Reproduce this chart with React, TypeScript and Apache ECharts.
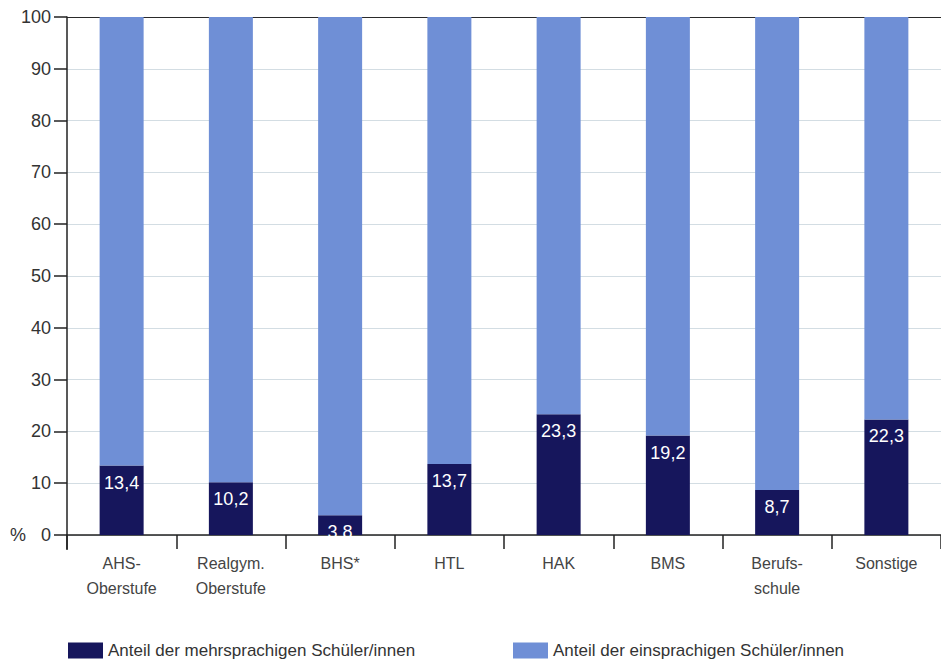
import React, { useEffect, useRef } from "react";
import * as echarts from "echarts";

const categories = ["AHS-\nOberstufe", "Realgym.\nOberstufe", "BHS*", "HTL", "HAK", "BMS", "Berufs-\nschule", "Sonstige"];
const mehrsprachig = [13.4, 10.2, 3.8, 13.7, 23.3, 19.2, 8.7, 22.3];
const einsprachig = [86.6, 89.8, 96.2, 86.3, 76.7, 80.8, 91.3, 77.7];
const seriesNames = ["Anteil der mehrsprachigen Schüler/innen", "Anteil der einsprachigen Schüler/innen"];
const yTicks = [0, 10, 20, 30, 40, 50, 60, 70, 80, 90, 100];

const FONT = "'Liberation Sans', Arial, Helvetica, sans-serif";

export default function App() {
  const ref = useRef<HTMLDivElement>(null);
  useEffect(() => {
    const chart = echarts.init(ref.current!, null, { renderer: "svg" });
    const splitColors = yTicks.map((t) => (t === 100 ? "#2a2a2a" : "#d3dde3"));
    const legendBase = {
      top: 642,
      padding: 0,
      itemWidth: 35,
      itemHeight: 16,
      itemGap: 0,
      icon: "rect",
      selectedMode: false,
      textStyle: { fontFamily: FONT, fontSize: 17, color: "#333" },
    };
    chart.setOption({
      animation: false,
      backgroundColor: "#ffffff",
      textStyle: { fontFamily: FONT },
      grid: { left: 67, right: -11, top: 17, bottom: 127, containLabel: false },
      legend: [
        { ...legendBase, left: 68, data: [seriesNames[0]] },
        { ...legendBase, left: 513, data: [seriesNames[1]] },
      ],
      xAxis: {
        type: "category",
        data: categories,
        axisLine: { show: true, lineStyle: { color: "#222", width: 1.5 } },
        axisTick: { show: true, length: 14, alignWithLabel: false, lineStyle: { color: "#222", width: 1.5 } },
        axisLabel: { fontFamily: FONT, fontSize: 16, color: "#444", lineHeight: 25, margin: 16, interval: 0 },
      },
      yAxis: {
        type: "value",
        min: 0,
        max: 100,
        interval: 10,
        axisLine: { show: true, lineStyle: { color: "#222", width: 1.5 } },
        axisTick: { show: true, length: 13, lineStyle: { color: "#222", width: 1.5 } },
        axisLabel: {
          fontFamily: FONT,
          fontSize: 18,
          color: "#333",
          margin: 16,
        },
        splitLine: { show: true, lineStyle: { color: splitColors, width: 1 } },
      },
      series: [
        {
          name: seriesNames[0],
          type: "bar",
          stack: "total",
          barWidth: 44,
          data: mehrsprachig,
          itemStyle: { color: "#16165c" },
          label: {
            show: true,
            position: "insideTop",
            distance: 8,
            color: "#ffffff",
            fontFamily: FONT,
            fontSize: 18,
            formatter: (p: any) => String(p.value).replace(".", ","),
          },
        },
        {
          name: seriesNames[1],
          type: "bar",
          stack: "total",
          barWidth: 44,
          data: einsprachig,
          itemStyle: { color: "#6f8fd6" },
        },
      ],
      graphic: [
        {
          type: "line",
          shape: { x1: 67, y1: 535, x2: 67, y2: 550 },
          style: { stroke: "#222", lineWidth: 1.5 },
        },
        {
          type: "text",
          left: 10,
          top: 526,
          style: { text: "%", fontFamily: FONT, fontSize: 18, fill: "#333" },
        },
      ],
    });
    return () => chart.dispose();
  }, []);
  return <div ref={ref} style={{ width: 941, height: 662, position: "absolute", left: 0, top: 0 }} />;
}
